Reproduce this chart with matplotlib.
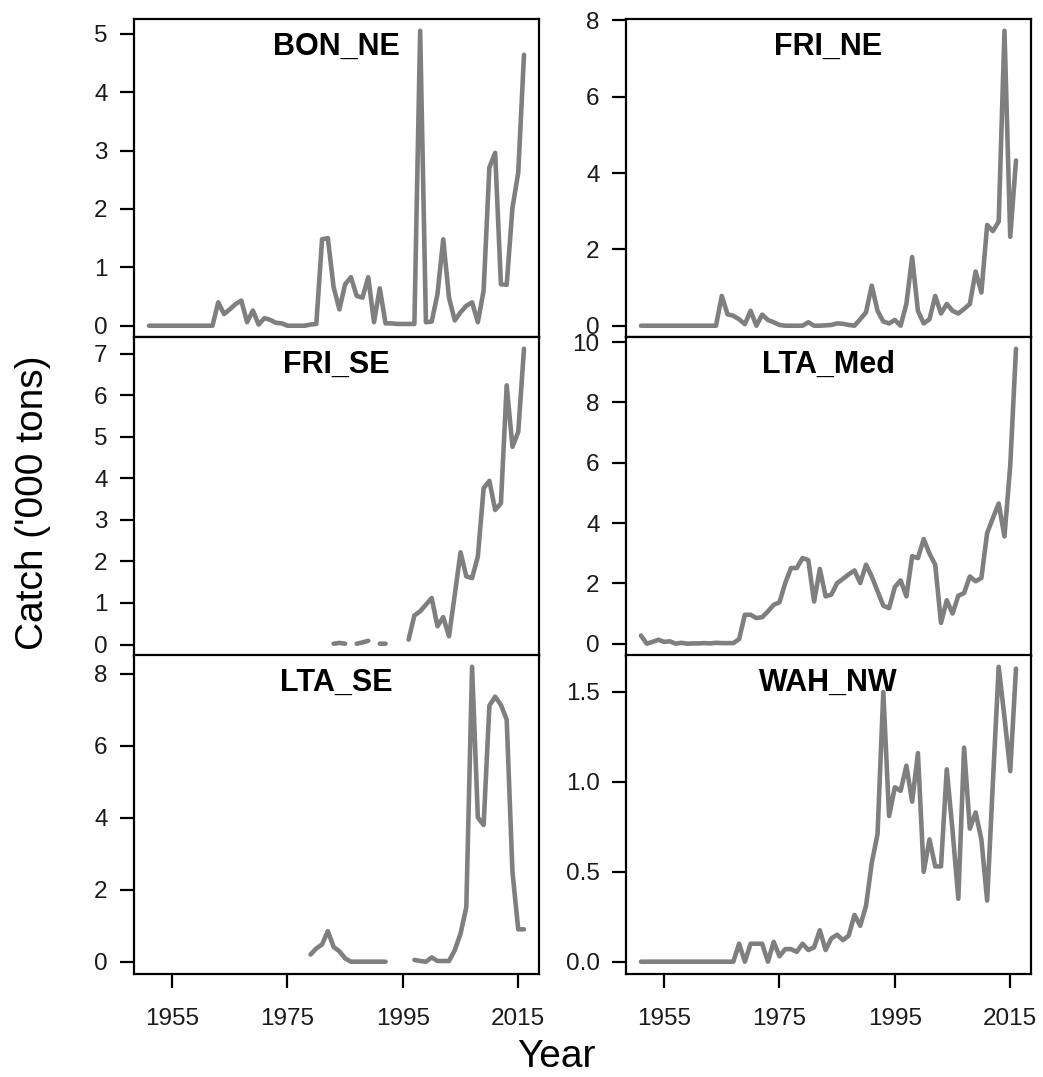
import numpy as np
import matplotlib
matplotlib.use("Agg")
import matplotlib.pyplot as plt
from matplotlib.ticker import MultipleLocator, FormatStrFormatter

plt.rcParams["font.family"] = ["Liberation Sans", "DejaVu Sans"]

# ---------------- Data ('000 tons) ----------------
years = np.arange(1951, 2017)
nan = np.nan

bon_ne = [0] * 12 + [
    0.40, 0.20, 0.28, 0.37, 0.43, 0.06, 0.26, 0.02, 0.13, 0.10, 0.05, 0.04,
    0.0, 0.0, 0.0, 0.0, 0.02, 0.03, 1.48, 1.50, 0.66, 0.28, 0.71, 0.83,
    0.51, 0.48, 0.83, 0.06, 0.64, 0.04, 0.04, 0.03, 0.03, 0.03, 0.03, 5.05,
    0.06, 0.07, 0.54, 1.48, 0.48, 0.09, 0.23, 0.34, 0.40, 0.06, 0.60, 2.71,
    2.96, 0.71, 0.70, 2.02, 2.62, 4.64]

fri_ne = [0] * 14 + [
    0.78, 0.30, 0.26, 0.17, 0.04, 0.39, 0.0, 0.29, 0.15, 0.09, 0.02, 0.0,
    0.0, 0.0, 0.0, 0.09, 0.0, 0.0, 0.01, 0.02, 0.06, 0.05, 0.02, 0.0,
    0.17, 0.35, 1.05, 0.39, 0.11, 0.06, 0.15, 0.0, 0.57, 1.80, 0.39, 0.06,
    0.17, 0.78, 0.32, 0.57, 0.39, 0.32, 0.44, 0.57, 1.42, 0.87, 2.64, 2.48,
    2.73, 7.73, 2.33, 4.33]

fri_se = [nan] * 32 + [
    0.02, 0.04, 0.02, nan, 0.02, 0.05, 0.09, nan, 0.02, 0.02, nan, nan, nan,
    0.12, 0.70, 0.80, 0.96, 1.12, 0.44, 0.66, 0.20, 1.20, 2.22, 1.64, 1.60,
    2.12, 3.76, 3.94, 3.24, 3.40, 6.24, 4.76, 5.12, 7.12]

lta_med = [
    0.27, 0.0, 0.06, 0.13, 0.06, 0.08, 0.0, 0.03, 0.0, 0.01, 0.01, 0.02,
    0.01, 0.03, 0.02, 0.02, 0.02, 0.15, 0.96, 0.96, 0.85, 0.88, 1.07, 1.29,
    1.37, 2.01, 2.51, 2.51, 2.84, 2.77, 1.40, 2.48, 1.57, 1.63, 2.01, 2.15,
    2.30, 2.43, 2.01, 2.62, 2.23, 1.74, 1.26, 1.18, 1.88, 2.10, 1.57, 2.90,
    2.84, 3.47, 2.99, 2.62, 0.69, 1.44, 1.00, 1.59, 1.68, 2.23, 2.07, 2.18,
    3.67, 4.17, 4.65, 3.56, 5.90, 9.78]

lta_se = [nan] * 28 + [
    0.20, 0.37, 0.48, 0.85, 0.41, 0.29, 0.09, 0.0, 0.0, 0.0, 0.0, 0.0,
    0.0, 0.0, nan, nan, nan, nan, 0.05, 0.02, 0.0, 0.12, 0.02, 0.02,
    0.02, 0.32, 0.78, 1.52, 8.20, 4.01, 3.80, 7.12, 7.37, 7.14, 6.73, 2.49,
    0.90, 0.90]

wah_nw = [0] * 17 + [
    0.10, 0.0, 0.10, 0.10, 0.10, 0.0, 0.11, 0.03, 0.07, 0.07, 0.055, 0.10,
    0.065, 0.08, 0.175, 0.065, 0.13, 0.15, 0.12, 0.145, 0.26, 0.20, 0.31, 0.55,
    0.71, 1.50, 0.81, 0.97, 0.95, 1.09, 0.89, 1.16, 0.50, 0.68, 0.53, 0.53,
    1.07, 0.73, 0.35, 1.19, 0.74, 0.83, 0.68, 0.34, 1.00, 1.64, 1.36, 1.06,
    1.63]

stocks = ["BON_NE", "FRI_NE", "FRI_SE", "LTA_Med", "LTA_SE", "WAH_NW"]
series = [bon_ne, fri_ne, fri_se, lta_med, lta_se, wah_nw]
y_steps = [1, 2, 1, 2, 2, 0.5]
x_ticks = [1955, 1975, 1995, 2015]

# ---------------- Layout (pixels) ----------------
W, H = 1043, 1077
col_left = [134, 626]
col_width = 405
row_top = [19, 337, 655]
row_height = 318.5

# R-style 4% padding on the common year range
span = years[-1] - years[0]
xlim = (years[0] - 0.04 * span, years[-1] + 0.04 * span)

fig = plt.figure(figsize=(W / 100, H / 100), dpi=100)
line_col = "#7f7f7f"

for i, (name, vals, step) in enumerate(zip(stocks, series, y_steps)):
    r, c = divmod(i, 2)
    left = col_left[c] / W
    bottom = 1 - (row_top[r] + row_height) / H
    ax = fig.add_axes([left, bottom, col_width / W, row_height / H])

    ax.plot(years, np.array(vals, dtype=float), color=line_col, lw=3.3,
            solid_capstyle="round", solid_joinstyle="round")
    ax.margins(y=0.04)
    ax.set_xlim(*xlim)

    ax.yaxis.set_major_locator(MultipleLocator(step))
    if step < 1:
        ax.yaxis.set_major_formatter(FormatStrFormatter("%.1f"))
    else:
        ax.yaxis.set_major_formatter(FormatStrFormatter("%d"))

    for sp in ax.spines.values():
        sp.set_linewidth(1.6)
    ax.tick_params(axis="both", direction="out", length=10, width=1.6,
                   labelsize=17.5, pad=9, colors="black")
    ax.tick_params(axis="y", labelcolor="#1a1a1a")
    if r == 2:
        ax.set_xticks(x_ticks)
        ax.tick_params(axis="x", pad=15, labelcolor="#1a1a1a")
    else:
        ax.tick_params(axis="x", bottom=False, labelbottom=False)

    ax.annotate(name, xy=(0.5, 1), xycoords="axes fraction",
                xytext=(0, -9), textcoords="offset points",
                ha="center", va="top", fontsize=22, fontweight="bold")

fig.text(33 / W, 1 - 503 / H, "Catch ('000 tons)", rotation=90,
         ha="center", va="center", fontsize=28)
fig.text(556 / W, 1 - 1057 / H, "Year", ha="center", va="center", fontsize=28)

fig.savefig("out.png", dpi=100)
